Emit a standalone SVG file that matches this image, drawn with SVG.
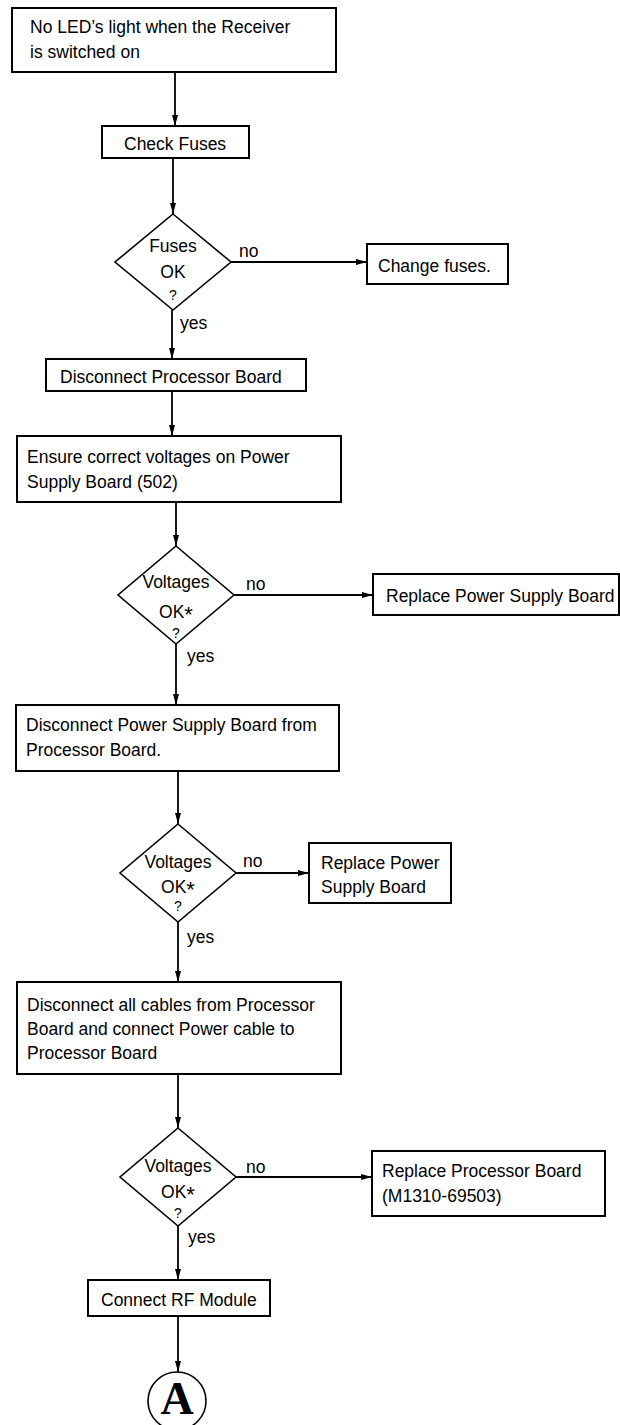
<svg xmlns="http://www.w3.org/2000/svg" width="620" height="1425" viewBox="0 0 620 1425">
  <style>
    .box { fill: #ffffff; stroke: #000000; stroke-width: 2; }
    .dec { fill: #ffffff; stroke: #000000; stroke-width: 1.6; }
    .txt { font-family: "Liberation Sans", Arial, sans-serif; font-size: 17.5px; fill: #000000; }
    .mid { text-anchor: middle; }
    .q { font-size: 14px; }
    .star { font-size: 22px; }
    .edge { fill: none; stroke: #000000; stroke-width: 1.8; marker-end: url(#arrow); }
    .big { font-family: "Liberation Serif", "Times New Roman", serif; font-size: 46px; font-weight: bold; text-anchor: middle; fill: #000000; }
  </style>
  <defs>
    <marker id="arrow" markerUnits="userSpaceOnUse" markerWidth="12" markerHeight="7" refX="11" refY="3.5" orient="auto">
      <path d="M0,0.5 L11,3.5 L0,6.5 Z" fill="#000000"/>
    </marker>
  </defs>
  <rect width="620" height="1425" fill="#ffffff"/>

  <!-- connectors -->
  <g id="connectors">
    <line class="edge" x1="175" y1="72" x2="175" y2="126"/>
    <line class="edge" x1="173" y1="158" x2="173" y2="214"/>
    <line class="edge" x1="231" y1="262" x2="367" y2="262"/>
    <line class="edge" x1="172" y1="310" x2="172" y2="359"/>
    <line class="edge" x1="172" y1="391" x2="172" y2="436"/>
    <line class="edge" x1="176" y1="502" x2="176" y2="546"/>
    <line class="edge" x1="234" y1="595" x2="373" y2="595"/>
    <line class="edge" x1="176" y1="644" x2="176" y2="705"/>
    <line class="edge" x1="178" y1="771" x2="178" y2="824"/>
    <line class="edge" x1="236" y1="873" x2="309" y2="873"/>
    <line class="edge" x1="178" y1="922" x2="178" y2="982"/>
    <line class="edge" x1="178" y1="1074" x2="178" y2="1128"/>
    <line class="edge" x1="236" y1="1177" x2="372" y2="1177"/>
    <line class="edge" x1="178" y1="1226" x2="178" y2="1280"/>
    <line class="edge" x1="178" y1="1316" x2="178" y2="1372"/>
    <text class="txt" x="239" y="257">no</text>
    <text class="txt" x="180" y="329">yes</text>
    <text class="txt" x="246" y="590">no</text>
    <text class="txt" x="187" y="662">yes</text>
    <text class="txt" x="243" y="867">no</text>
    <text class="txt" x="187" y="943">yes</text>
    <text class="txt" x="246" y="1173">no</text>
    <text class="txt" x="188" y="1243">yes</text>
  </g>

  <!-- start -->
  <g id="start">
    <rect class="box" x="12" y="8" width="324" height="64"/>
    <text class="txt" x="30" y="33">No LED’s light when the Receiver</text>
    <text class="txt" x="30" y="58">is switched on</text>
  </g>

  <g id="check-fuses">
    <rect class="box" x="102" y="126" width="147" height="32"/>
    <text class="txt" x="124" y="150">Check Fuses</text>
  </g>

  <g id="fuses-ok">
    <polygon class="dec" points="173,214 231,262 173,310 115,262"/>
    <text class="txt mid" x="173" y="252">Fuses</text>
    <text class="txt mid" x="173" y="278">OK</text>
    <text class="txt mid q" x="173" y="300">?</text>
  </g>

  <g id="change-fuses">
    <rect class="box" x="367" y="244" width="141" height="40"/>
    <text class="txt" x="378" y="272">Change fuses.</text>
  </g>

  <g id="disconnect-processor">
    <rect class="box" x="46" y="359" width="260" height="32"/>
    <text class="txt" x="60" y="383">Disconnect Processor Board</text>
  </g>

  <g id="ensure-voltages">
    <rect class="box" x="17" y="436" width="324" height="66"/>
    <text class="txt" x="27" y="463">Ensure correct voltages on Power</text>
    <text class="txt" x="27" y="488">Supply Board (502)</text>
  </g>

  <g id="voltages-ok-1">
    <polygon class="dec" points="176,546 234,595 176,644 118,595"/>
    <text class="txt mid" x="176" y="588">Voltages</text>
    <text class="txt mid" x="176" y="618">OK<tspan class="star" dy="4">*</tspan></text>
    <text class="txt mid q" x="176" y="638">?</text>
  </g>

  <g id="replace-psb-1">
    <rect class="box" x="373" y="574" width="246" height="41"/>
    <text class="txt" x="386" y="602">Replace Power Supply Board</text>
  </g>

  <g id="disconnect-psb">
    <rect class="box" x="16" y="705" width="323" height="66"/>
    <text class="txt" x="26" y="731">Disconnect Power Supply Board from</text>
    <text class="txt" x="26" y="756">Processor Board.</text>
  </g>

  <g id="voltages-ok-2">
    <polygon class="dec" points="178,824 236,873 178,922 120,873"/>
    <text class="txt mid" x="178" y="868">Voltages</text>
    <text class="txt mid" x="178" y="893">OK<tspan class="star" dy="4">*</tspan></text>
    <text class="txt mid q" x="178" y="911">?</text>
  </g>

  <g id="replace-psb-2">
    <rect class="box" x="309" y="843" width="142" height="60"/>
    <text class="txt" x="321" y="869">Replace Power</text>
    <text class="txt" x="321" y="893">Supply Board</text>
  </g>

  <g id="disconnect-cables">
    <rect class="box" x="17" y="982" width="324" height="92"/>
    <text class="txt" x="27" y="1011">Disconnect all cables from Processor</text>
    <text class="txt" x="27" y="1035">Board and connect Power cable to</text>
    <text class="txt" x="27" y="1059">Processor Board</text>
  </g>

  <g id="voltages-ok-3">
    <polygon class="dec" points="178,1128 236,1177 178,1226 120,1177"/>
    <text class="txt mid" x="178" y="1172">Voltages</text>
    <text class="txt mid" x="178" y="1198">OK<tspan class="star" dy="4">*</tspan></text>
    <text class="txt mid q" x="178" y="1218">?</text>
  </g>

  <g id="replace-processor">
    <rect class="box" x="372" y="1151" width="233" height="65"/>
    <text class="txt" x="382" y="1177">Replace Processor Board</text>
    <text class="txt" x="382" y="1202">(M1310-69503)</text>
  </g>

  <g id="connect-rf">
    <rect class="box" x="88" y="1280" width="182" height="36"/>
    <text class="txt" x="101" y="1306">Connect RF Module</text>
  </g>

  <g id="connector-a">
    <circle class="dec" cx="177" cy="1401" r="29"/>
    <text class="big" x="177" y="1414">A</text>
  </g>
</svg>
